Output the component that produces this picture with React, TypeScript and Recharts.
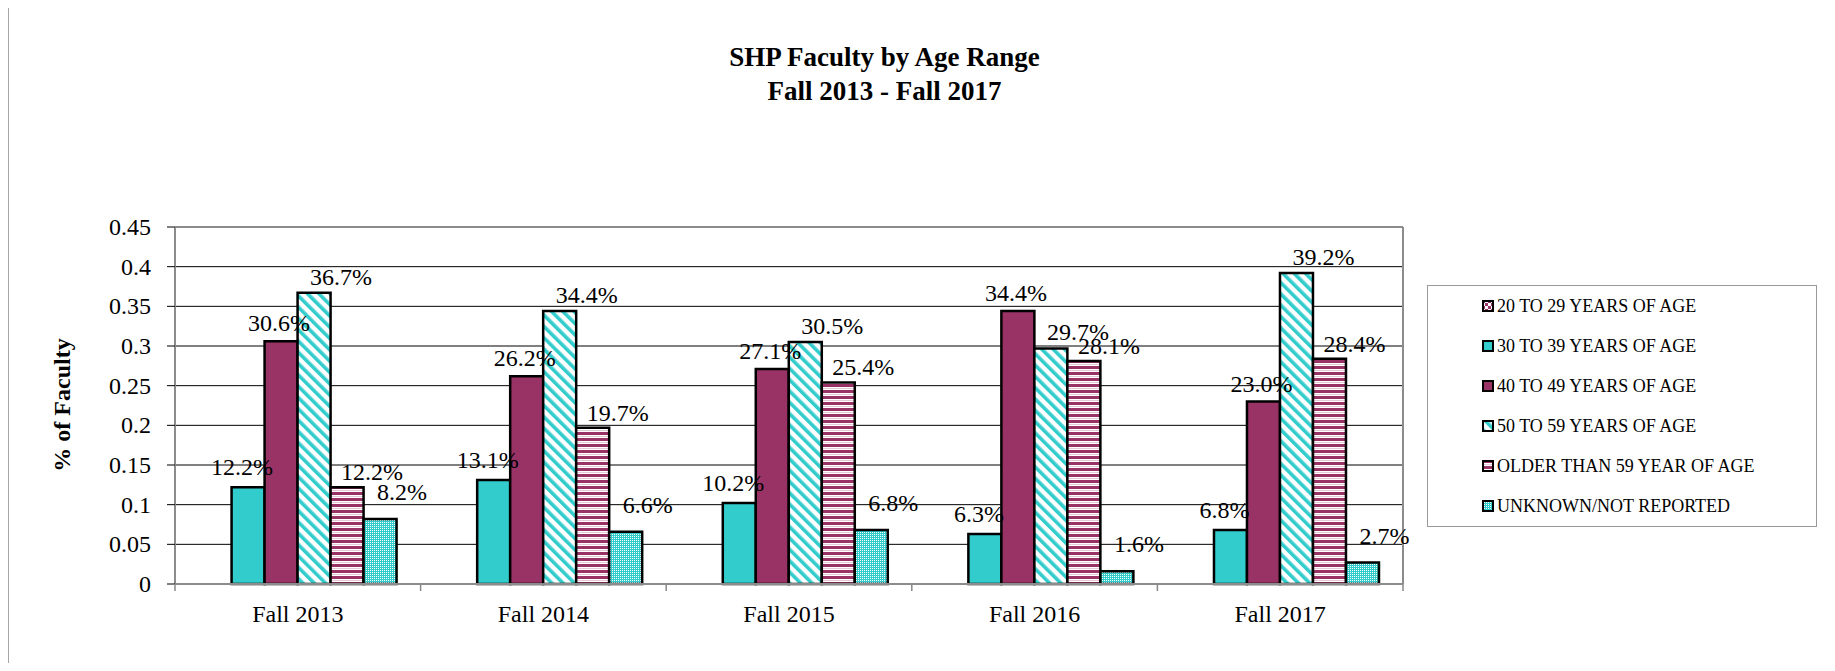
import React from 'react';
import { BarChart, Bar, XAxis, YAxis, CartesianGrid, LabelList } from 'recharts';

const categories = ['Fall 2013', 'Fall 2014', 'Fall 2015', 'Fall 2016', 'Fall 2017'];
const age20to29 = [0, 0, 0, 0, 0];
const age30to39 = [0.122, 0.131, 0.102, 0.063, 0.068];
const age40to49 = [0.306, 0.262, 0.271, 0.344, 0.23];
const age50to59 = [0.367, 0.344, 0.305, 0.297, 0.392];
const olderThan59 = [0.122, 0.197, 0.254, 0.281, 0.284];
const unknownAge = [0.082, 0.066, 0.068, 0.016, 0.027];
const seriesNames = [
  '20 TO 29 YEARS OF AGE',
  '30 TO 39 YEARS OF AGE',
  '40 TO 49 YEARS OF AGE',
  '50 TO 59 YEARS OF AGE',
  'OLDER THAN 59 YEAR OF AGE',
  'UNKNOWN/NOT REPORTED',
];
const yTicks = [0, 0.05, 0.1, 0.15, 0.2, 0.25, 0.3, 0.35, 0.4, 0.45];
const titleLines = ['SHP Faculty by Age Range', 'Fall 2013 - Fall 2017'];
const yAxisTitle = '% of Faculty';

const seriesValues = [age20to29, age30to39, age40to49, age50to59, olderThan59, unknownAge];
const keys = seriesValues.map((_, j) => 's' + j);
const data = categories.map((c, i) => {
  const row: any = { category: c };
  seriesValues.forEach((vals, j) => {
    row[keys[j]] = vals[i];
  });
  return row;
});

const FONT = "'Liberation Serif', 'Times New Roman', serif";
const W = 1835;
const H = 671;
const MARGIN = { top: 227, right: 432, bottom: 37, left: 115 };
const Y_AXIS_W = 60;
const X_AXIS_H = 50;
const PLOT_W = W - MARGIN.left - Y_AXIS_W - MARGIN.right;
const TEAL = '#33CCCC';
const MAROON = '#993366';

const seriesStyles = [
  { pat: 'checker', dx: 0, above: 18 },
  { solid: TEAL, dx: -6, above: 20 },
  { solid: MAROON, dx: -2, above: 18 },
  { pat: 'diag', dx: 27, above: 16 },
  { pat: 'horiz', dx: 25, above: 15 },
  { pat: 'dots', dx: 22, above: 27 },
];

const Patterns = ({ p }: { p: string }) => (
  <defs>
    <pattern id={p + 'checker'} width="6" height="6" patternUnits="userSpaceOnUse">
      <rect width="6" height="6" fill={MAROON} />
      <rect x="3" y="0" width="3" height="3" fill="#fff" />
      <rect x="0" y="3" width="3" height="3" fill="#fff" />
    </pattern>
    <pattern id={p + 'diag'} width="8" height="8" patternUnits="userSpaceOnUse" patternTransform="rotate(-45)">
      <rect width="8" height="8" fill="#fff" />
      <rect width="3.6" height="8" fill={TEAL} />
    </pattern>
    <pattern id={p + 'horiz'} width="6" height="6" patternUnits="userSpaceOnUse">
      <rect width="6" height="6" fill="#fff" />
      <rect width="6" height="3" fill={MAROON} />
      <rect y="4" width="6" height="1" fill="#e6c9d7" />
    </pattern>
    <pattern id={p + 'dots'} width="2" height="2" patternUnits="userSpaceOnUse">
      <rect width="2" height="2" fill={TEAL} />
      <rect width="1" height="1" fill="#fff" />
    </pattern>
  </defs>
);

const fillFor = (j: number, p: string) => {
  const s: any = seriesStyles[j];
  return s.solid ? s.solid : `url(#${p}${s.pat})`;
};

const textStyle = { fontFamily: FONT };

const makeLabel = (dx: number, above: number) => (props: any) => {
  const { x, y, width, value } = props;
  if (!value) return null;
  return (
    <text
      x={Number(x) + Number(width) / 2 + dx}
      y={Number(y) - above + 8}
      textAnchor="middle"
      fontSize={24}
      style={textStyle}
      fill="#000"
    >
      {(value * 100).toFixed(1) + '%'}
    </text>
  );
};

const band = PLOT_W / categories.length;

const XTick = (props: any) => {
  const { x, y, payload, index } = props;
  return (
    <g>
      <line x1={x - band / 2} x2={x - band / 2} y1={y} y2={y + 7} stroke="#888" strokeWidth={1.5} />
      {index === categories.length - 1 && (
        <line x1={x + band / 2} x2={x + band / 2} y1={y} y2={y + 7} stroke="#888" strokeWidth={1.5} />
      )}
      <text x={x} y={y + 38} textAnchor="middle" fontSize={24} style={textStyle} fill="#000">
        {payload.value}
      </text>
    </g>
  );
};

const YTick = (props: any) => {
  const { x, y, payload } = props;
  return (
    <text x={x} y={y + 8} textAnchor="end" fontSize={24} style={textStyle} fill="#000">
      {String(payload.value)}
    </text>
  );
};

export default function App() {
  return (
    <div
      style={{
        position: 'relative',
        width: W,
        height: H,
        margin: -8,
        overflow: 'hidden',
        background: '#fff',
        fontFamily: FONT,
      }}
    >
      <div
        style={{
          position: 'absolute',
          left: 8,
          top: 6,
          width: 1821,
          height: 720,
          border: '1.5px solid #a6a6a6',
          boxSizing: 'border-box',
        }}
      />
      <div
        style={{
          position: 'absolute',
          left: 0,
          top: 40,
          width: 1769,
          textAlign: 'center',
          fontWeight: 'bold',
          fontSize: 27,
          lineHeight: '34px',
          color: '#000',
        }}
      >
        {titleLines.map((t) => (
          <div key={t}>{t}</div>
        ))}
      </div>
      <div
        style={{
          position: 'absolute',
          left: 62,
          top: 405,
          transform: 'translate(-50%, -50%) rotate(-90deg)',
          fontWeight: 'bold',
          fontSize: 24,
          whiteSpace: 'nowrap',
          color: '#000',
        }}
      >
        {yAxisTitle}
      </div>
      <div style={{ position: 'absolute', left: 0, top: 0 }}>
        <BarChart
          width={W}
          height={H}
          data={data}
          margin={MARGIN}
          barCategoryGap="9.6%"
          barGap={0}
          style={{ fontFamily: FONT }}
        >
          <Patterns p="c-" />
          <CartesianGrid horizontal={true} vertical={false} stroke="#000" strokeWidth={1} />
          <CartesianGrid
            horizontal={true}
            vertical={true}
            horizontalCoordinatesGenerator={(pr: any) => [pr.offset.top]}
            verticalCoordinatesGenerator={(pr: any) => [pr.offset.left, pr.offset.left + pr.offset.width]}
            stroke="#8c8c8c"
            strokeWidth={2}
          />
          <XAxis
            dataKey="category"
            height={X_AXIS_H}
            tickSize={0}
            tickMargin={0}
            tickLine={false}
            axisLine={{ stroke: '#8c8c8c', strokeWidth: 2 }}
            tick={<XTick />}
            interval={0}
          />
          <YAxis
            width={Y_AXIS_W}
            domain={[0, 0.45]}
            ticks={yTicks}
            interval={0}
            tickSize={8}
            tickMargin={16}
            tickLine={{ stroke: '#000' }}
            axisLine={{ stroke: '#8c8c8c', strokeWidth: 2 }}
            tick={<YTick />}
          />
          {keys.map((k, j) => (
            <Bar
              key={k}
              dataKey={k}
              name={seriesNames[j]}
              fill={fillFor(j, 'c-')}
              stroke="#000"
              strokeWidth={2.5}
              isAnimationActive={false}
            >
              <LabelList dataKey={k} content={makeLabel(seriesStyles[j].dx, seriesStyles[j].above)} />
            </Bar>
          ))}
        </BarChart>
      </div>
      <div
        style={{
          position: 'absolute',
          left: 1427,
          top: 285,
          width: 390,
          height: 242,
          border: '1.5px solid #999',
          boxSizing: 'border-box',
          background: '#fff',
        }}
      >
        {seriesNames.map((n, j) => (
          <div
            key={n}
            style={{
              position: 'absolute',
              left: 54,
              top: 20 + 40 * j - 13,
              height: 26,
              display: 'flex',
              alignItems: 'center',
              whiteSpace: 'nowrap',
              fontSize: 18,
              color: '#000',
            }}
          >
            <svg width={12} height={12} style={{ marginRight: 3, display: 'block' }}>
              <Patterns p={'l' + j + '-'} />
              <rect x={1} y={1} width={10} height={10} fill={fillFor(j, 'l' + j + '-')} stroke="#000" strokeWidth={2} />
            </svg>
            <span>{n}</span>
          </div>
        ))}
      </div>
    </div>
  );
}
